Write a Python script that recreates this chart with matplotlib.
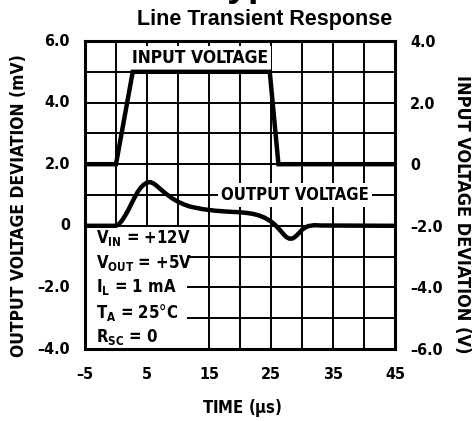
import matplotlib
matplotlib.use('Agg')
import matplotlib.pyplot as plt
from matplotlib.patches import Rectangle

# input step (right axis, V)
t_in = [-5, 0, 2.7, 24.8, 26.2, 45]
v_in = [0, 0, 3, 3, 0, 0]

# output deviation (left axis, mV)
t_out = [-5, 0, 0.5, 1, 1.5, 2, 2.5, 3, 3.5, 4, 4.5, 5, 5.5, 6, 6.5, 7, 8, 9, 10,
         11, 12, 14, 16, 18, 20, 21, 22, 23, 24, 25, 25.5, 26, 26.5, 27, 27.5,
         28, 28.5, 29, 29.5, 30, 30.5, 31, 32, 33, 45]
v_out = [0, 0, 0.06, 0.18, 0.34, 0.52, 0.72, 0.92, 1.1, 1.24, 1.34, 1.4, 1.42,
         1.38, 1.31, 1.22, 1.05, 0.9, 0.78, 0.69, 0.62, 0.54, 0.49, 0.46, 0.44,
         0.42, 0.39, 0.34, 0.26, 0.14, 0.06, -0.04, -0.15, -0.27, -0.37, -0.42,
         -0.41, -0.34, -0.24, -0.13, -0.06, -0.01, 0.02, 0.01, 0]

xticks = [-5, 5, 15, 25, 35, 45]
yticks_l = [-4, -2, 0, 2, 4, 6]
ylabels_l = ['\u20134.0', '\u20132.0', '0', '2.0', '4.0', '6.0']
yticks_r = [-6, -4, -2, 0, 2, 4]
ylabels_r = ['\u20136.0', '\u20134.0', '\u20132.0', '0', '2.0', '4.0']
xlabels = ['\u20135', '5', '15', '25', '35', '45']

cond = ['V$_{\\mathrm{IN}}$ = +12V', 'V$_{\\mathrm{OUT}}$ = +5V', 'I$_{\\mathrm{L}}$ = 1 mA',
        'T$_{\\mathrm{A}}$ = 25\u00b0C', 'R$_{\\mathrm{SC}}$ = 0']

plt.rcParams['font.family'] = ['DejaVu Sans']
plt.rcParams['font.stretch'] = 'condensed'
plt.rcParams['font.weight'] = 'bold'
plt.rcParams['mathtext.fontset'] = 'custom'
plt.rcParams['mathtext.rm'] = 'DejaVu Sans:bold'
plt.rcParams['mathtext.it'] = 'DejaVu Sans:bold'
plt.rcParams['mathtext.bf'] = 'DejaVu Sans:bold'

fig = plt.figure(figsize=(4.72, 4.21), dpi=100)
ax = fig.add_axes([85/472, 1 - 349/421, 310/472, 308/421])
ax.set_xlim(-5, 45)
ax.set_ylim(-4, 6)
ax.set_xticks(range(-5, 46, 5))
ax.set_yticks(range(-4, 7))
ax.grid(True, color='black', lw=1.4)
ax.tick_params(length=0, labelleft=False, labelbottom=False)
for s in ax.spines.values():
    s.set_linewidth(2.2)

for t, lab in zip(xticks, xlabels):
    ax.text(t, -4.6, lab, ha='center', va='top', fontsize=11.5)
for y, lab in zip(yticks_l, ylabels_l):
    ax.text(-7.4, y, lab, ha='right', va='center', fontsize=11.5)

ax2 = ax.twinx()
ax2.set_ylim(-6, 4)
ax2.set_yticks(yticks_r)
ax2.set_yticklabels(ylabels_r, fontsize=11.5)
ax2.tick_params(length=0, pad=11)
for s in ax2.spines.values():
    s.set_visible(False)

# condition box blanks the grid underneath
ax.add_patch(Rectangle((0, 0), 0.33, 0.395, transform=ax.transAxes,
                       facecolor='white', edgecolor='none', zorder=2))
for i, c in enumerate(cond):
    ax.text(0.035, 0.36 - i * 0.08, c, transform=ax.transAxes, ha='left',
            va='center', fontsize=12, zorder=4)

ax.plot(t_out, v_out, color='black', lw=3.2, zorder=3, solid_capstyle='butt')
ax2.plot(t_in, v_in, color='black', lw=3.2, solid_joinstyle='miter')

ax.text(13.5, 5.45, 'INPUT VOLTAGE', ha='center', va='center', fontsize=12.5,
        zorder=4, bbox=dict(facecolor='white', edgecolor='none', pad=2))
ax.text(28.9, 1.0, 'OUTPUT VOLTAGE', ha='center', va='center', fontsize=12,
        zorder=4, bbox=dict(facecolor='white', edgecolor='none', pad=2))

fig.text(19/472, 1 - 206/421, 'OUTPUT VOLTAGE DEVIATION (mV)', rotation=90,
         ha='center', va='center', fontsize=12.5)
fig.text(462/472, 1 - 214/421, 'INPUT VOLTAGE DEVIATION (V)', rotation=-90,
         ha='center', va='center', fontsize=13)
fig.text(242/472, 1 - 408/421, 'TIME ($\\mu$s)', ha='center', va='center',
         fontsize=12)

title_font = dict(family=['Liberation Sans', 'DejaVu Sans'], stretch='normal',
                  fontweight='bold')
fig.text(265/472, 1 - 19/421, 'Line Transient Response', ha='center', va='center',
         fontsize=15.5, **title_font)
# heading of the page above, mostly cut off by the crop
fig.text(207/472, 1 + 4/421, 'Typical Performance Characteristics', ha='left',
         va='baseline', fontsize=27, **title_font)

fig.savefig('out.png', dpi=100)
